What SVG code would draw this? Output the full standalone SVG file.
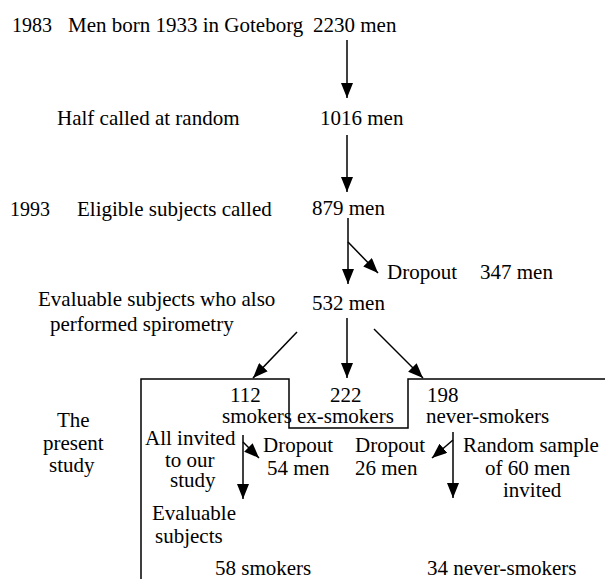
<svg xmlns="http://www.w3.org/2000/svg" width="605" height="579" viewBox="0 0 605 579" font-family="Liberation Serif, DejaVu Serif, serif">
<style>
text{font-size:21px;fill:#000}
.yr{font-size:20px}
.c line{stroke:#000;stroke-width:1.5;marker-end:url(#ah)}
.frame{fill:none;stroke:#000;stroke-width:1.5}
</style>
<defs>
<marker id="ah" markerUnits="userSpaceOnUse" markerWidth="16" markerHeight="12" refX="15" refY="6" orient="auto">
<path d="M0,0 L15,6 L0,12 z" fill="#000"/>
</marker>
</defs>
<rect width="605" height="579" fill="#fff"/>
<polyline id="study-frame" class="frame" points="141,580 141,379 289,379 289,428 408,428 408,379 606,379"/>
<g id="n-1983"><text class="yr" x="12" y="32">1983</text><text x="68" y="32">Men born 1933 in Goteborg</text><text x="313" y="32">2230 men</text></g>
<g id="n-half"><text x="57" y="125">Half called at random</text><text x="320" y="125">1016 men</text></g>
<g id="n-1993"><text class="yr" x="10" y="216">1993</text><text x="77" y="216">Eligible subjects called</text><text x="312" y="215">879 men</text></g>
<g id="n-dropout1"><text x="387" y="279">Dropout</text><text x="480" y="279">347 men</text></g>
<g id="n-532"><text x="38" y="306">Evaluable subjects who also</text><text x="50" y="331">performed spirometry</text><text x="312" y="310">532 men</text></g>
<g id="n-present"><text x="57" y="427">The</text><text x="43" y="450">present</text><text x="49" y="472">study</text></g>
<g id="n-smokers"><text x="230" y="402">112</text><text x="222" y="423">smokers</text></g>
<g id="n-ex"><text x="330" y="402">222</text><text x="297" y="423">ex-smokers</text></g>
<g id="n-never"><text x="427" y="402">198</text><text x="426" y="423">never-smokers</text></g>
<g id="n-invited"><text x="145" y="445">All invited</text><text x="165" y="467">to our</text><text x="170" y="487">study</text></g>
<g id="n-dropout54"><text x="263" y="452">Dropout</text><text x="267" y="475">54 men</text></g>
<g id="n-dropout26"><text x="355" y="452">Dropout</text><text x="355" y="475">26 men</text></g>
<g id="n-random"><text x="463" y="452">Random sample</text><text x="485" y="475">of 60 men</text><text x="503" y="497">invited</text></g>
<g id="n-evaluable"><text x="152" y="520">Evaluable</text><text x="155" y="543">subjects</text></g>
<g id="n-58"><text x="215" y="575">58 smokers</text></g>
<g id="n-34"><text x="427" y="575">34 never-smokers</text></g>
<g id="connectors" class="c">
<line x1="347" y1="40" x2="347" y2="98"/>
<line x1="347" y1="135" x2="347" y2="192"/>
<line x1="348" y1="218" x2="348" y2="284"/>
<line x1="348" y1="242" x2="378" y2="273"/>
<line x1="297" y1="332" x2="253" y2="378"/>
<line x1="347" y1="318" x2="347" y2="378"/>
<line x1="374" y1="329" x2="423" y2="378"/>
<line x1="243" y1="435" x2="243" y2="499"/>
<line x1="243" y1="442" x2="259" y2="458"/>
<line x1="453" y1="432" x2="453" y2="498"/>
<line x1="453" y1="440" x2="432" y2="458"/>
</g>
</svg>
